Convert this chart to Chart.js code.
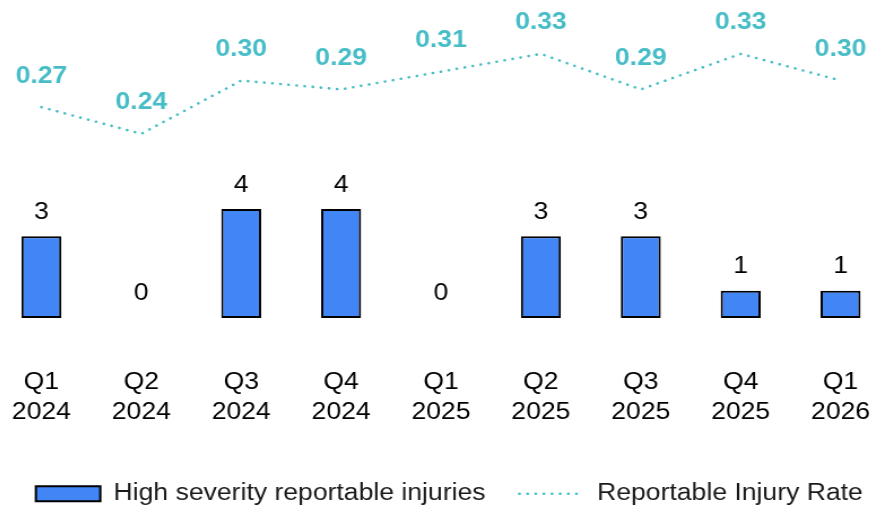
<!DOCTYPE html>
<html>
<head>
<meta charset="utf-8">
<script src="https://cdn.jsdelivr.net/npm/chart.js@4"></script>
<style>
  html, body { margin: 0; padding: 0; background: #fff; overflow: hidden; }
  /* the reference text is slightly wide, so the whole chart is stretched a little */
  #wrap {
    position: absolute; left: -10px; top: 0;
    width: 798.2px; height: 508px;
    transform: scaleX(1.13); transform-origin: 0 0;
  }
</style>
</head>
<body>
<div id="wrap"><canvas id="injuryChart"></canvas></div>
<script>
// Quarter labels (two lines each)
const quarters = [
    ['Q1', '2024'], ['Q2', '2024'], ['Q3', '2024'], ['Q4', '2024'],
    ['Q1', '2025'], ['Q2', '2025'], ['Q3', '2025'], ['Q4', '2025'], ['Q1', '2026']
];
const highSeverity = [3, 0, 4, 4, 0, 3, 3, 1, 1];
const injuryRate = [0.27, 0.24, 0.30, 0.29, 0.31, 0.33, 0.29, 0.33, 0.30];

const barBlue = '#4285F4';
const rateTeal = '#47BDC7';
const fontFamily = '"Liberation Sans", Arial, sans-serif';
const fontSize = 23.5;
const rateDash = [0.1, 7.1];

// Value labels above bars and line points
const valueLabels = {
    id: 'valueLabels',
    afterLayout(chart) {
        // nudge the legend to the right to line up with the reference
        chart.legend.left += 7.4;
        chart.legend.right += 7.4;
    },
    afterDatasetsDraw(chart) {
        const ctx = chart.ctx;
        ctx.save();
        ctx.textAlign = 'center';
        ctx.textBaseline = 'middle';

        ctx.font = fontSize + 'px ' + fontFamily;
        ctx.fillStyle = '#000';
        chart.getDatasetMeta(0).data.forEach((bar, i) => {
            ctx.fillText(String(highSeverity[i]), bar.x, bar.y - 24);
        });

        ctx.font = 'bold ' + fontSize + 'px ' + fontFamily;
        ctx.fillStyle = rateTeal;
        chart.getDatasetMeta(1).data.forEach((pt, i) => {
            ctx.fillText(injuryRate[i].toFixed(2), pt.x, pt.y - 31);
        });
        ctx.restore();
    }
};

const ctx = document.getElementById('injuryChart').getContext('2d');
const chart = new Chart(ctx, {
    data: {
        labels: quarters,
        datasets: [
            {
                type: 'bar',
                label: 'High severity reportable injuries',
                data: highSeverity,
                backgroundColor: barBlue,
                borderColor: '#000',
                borderWidth: 2,
                borderSkipped: false,
                categoryPercentage: 1,
                barPercentage: 0.4,
                yAxisID: 'yBar',
                order: 2
            },
            {
                type: 'line',
                label: 'Reportable Injury Rate',
                data: injuryRate,
                borderColor: rateTeal,
                backgroundColor: rateTeal,
                borderWidth: 2.6,
                borderDash: rateDash,
                borderCapStyle: 'round',
                pointRadius: 0,
                tension: 0,
                fill: false,
                yAxisID: 'yRate',
                order: 1
            }
        ]
    },
    options: {
        responsive: true,
        maintainAspectRatio: false,
        animation: false,
        layout: { padding: { top: 0, bottom: -7.5, left: 0, right: 0 } },
        plugins: {
            tooltip: { enabled: false },
            legend: {
                position: 'bottom',
                labels: {
                    usePointStyle: true,
                    pointStyleWidth: 57,
                    boxHeight: 15,
                    padding: 30,
                    color: '#1a1a1a',
                    font: { family: fontFamily, size: fontSize },
                    generateLabels(chart) {
                        const items = Chart.defaults.plugins.legend.labels.generateLabels(chart);
                        items.sort((a, b) => a.datasetIndex - b.datasetIndex);
                        items[0].pointStyle = 'rect';
                        items[0].fillStyle = barBlue;
                        items[0].strokeStyle = '#000';
                        items[0].lineWidth = 2;
                        items[1].pointStyle = 'line';
                        items[1].strokeStyle = rateTeal;
                        items[1].lineWidth = 2.6;
                        items[1].lineCap = 'round';
                        items[1].lineDash = rateDash;
                        return items;
                    }
                }
            }
        },
        scales: {
            x: {
                grid: { display: false, drawTicks: false },
                border: { display: false },
                ticks: {
                    color: '#000',
                    padding: 50,
                    font: { family: fontFamily, size: fontSize, lineHeight: 1.26 }
                },
                afterFit(scale) {
                    scale.paddingLeft = 0;
                    scale.paddingRight = 0;
                    scale.height = 134;
                }
            },
            yBar: {
                display: false,
                min: 0,
                max: 11.63
            },
            yRate: {
                display: false,
                min: 0.0326,
                max: 0.3892
            }
        }
    },
    plugins: [valueLabels]
});
</script>
</body>
</html>
